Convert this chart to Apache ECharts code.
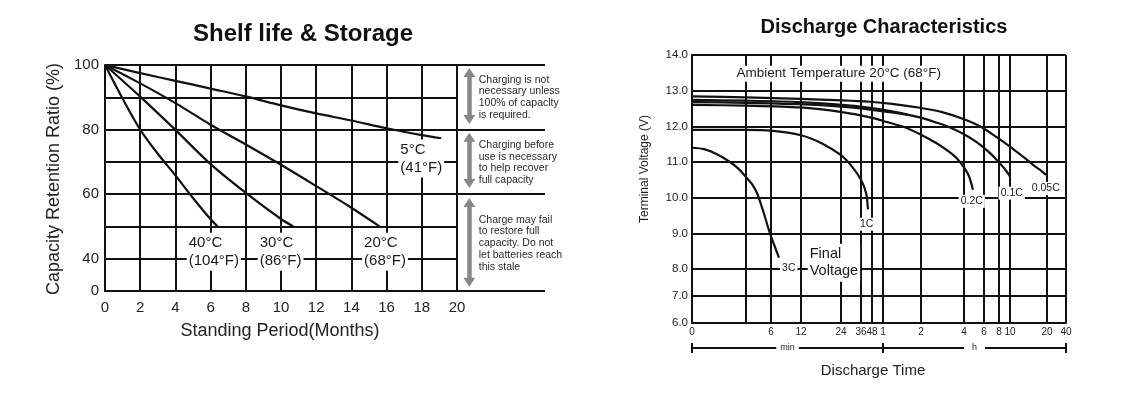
<!DOCTYPE html>
<html><head><meta charset="utf-8">
<script src="https://cdn.jsdelivr.net/npm/echarts@6/dist/echarts.min.js"></script>
<style>html,body{margin:0;padding:0;background:#fff}#c{width:1134px;height:395px}</style>
</head><body><div id="c"></div>
<script>
// ---------------- Shelf life & Storage (left) ----------------
const SHELF_X_TICKS = [0, 2, 4, 6, 8, 10, 12, 14, 16, 18, 20];          // months
const SHELF_Y_TICKS = [30, 40, 60, 80, 100];                              // axis values carrying labels
const SHELF_Y_TICK_LABELS = ['0', '40', '60', '80', '100'];
const SHELF_5C  = [[0,100],[2,97.5],[4,95.1],[6,92.7],[8,90.3],[10,87.5],[12,85.0],[14,82.8],[16,80.4],[18,78.3],[19.1,77.3]];
const SHELF_20C = [[0,100],[2,94.3],[4,88.2],[6,81.5],[8,75.4],[10,69.1],[12,62.5],[14,55.8],[15.6,50]];
const SHELF_30C = [[0,100],[2,90.2],[4,79.9],[6,69.3],[8,60.4],[10,52.3],[10.7,50]];
const SHELF_40C = [[0,100],[1,89.6],[2,80],[3,72.5],[4,65.8],[5,58.8],[6,52.2],[6.4,50]];
const SHELF_CURVE_LABELS = [['40°C\n(104°F)', 4.66, 42.1], ['30°C\n(86°F)', 8.69, 42.1], ['20°C\n(68°F)', 14.62, 42.1], ['5°C\n(41°F)', 16.68, 71.0]];
const SHELF_ZONES = [[97.7, 83.1], [77.6, 63.3], [57.4, 32.7]];            // double-arrow ranges (%)
const SHELF_NOTES = [
  ['Charging is not\nnecessary unless\n100% of capaclty\nis required.', 89.9],
  ['Charging before\nuse is necessary\nto help recover\nfull capacity', 69.7],
  ['Charge may fail\nto restore full\ncapacity. Do not\nlet batteries reach\nthis stale', 44.7]
];

// ---------------- Discharge Characteristics (right) ----------------
const TIME_TICKS = [0, 3, 6, 12, 24, 36, 48, 60, 120, 240, 360, 480, 600, 1200, 2400];   // minutes
const TIME_TICK_LABELS = ['0', '', '6', '12', '24', '36', '48', '1', '2', '4', '6', '8', '10', '20', '40'];
// curves: [minutes, volts]
const DIS_3C = [[0,11.4],[0.67,11.36],[1.39,11.22],[2.11,11.0],[2.56,10.82],[3,10.58],[3.72,10.38],[4.32,10.13],[5.16,9.55],[5.88,9.0],[7.6,8.32]];
const DIS_1C = [[0,11.9],[3,11.9],[6,11.88],[12,11.75],[18.3,11.52],[24,11.19],[30.6,10.87],[36,10.5],[41.5,10.13],[43.6,9.67]];
const DIS_02C = [[0,12.6],[3,12.58],[11.8,12.53],[24.6,12.4],[45.8,12.25],[66.3,12.12],[93.2,11.98],[118.4,11.78],[164.7,11.52],[200.9,11.27],[220.5,11.1],[240,10.85],[270,10.6],[294,10.22]];
const DIS_X = [[0,12.68],[3,12.66],[11.8,12.62],[24.6,12.55],[45.8,12.47],[74.2,12.39],[97.9,12.33]];
const DIS_01C = [[0,12.74],[3,12.72],[11.8,12.68],[24.6,12.6],[45.8,12.52],[74.2,12.42],[118.4,12.25],[164.7,12.1],[200.9,11.97],[240,11.78],[318,11.55],[408,11.25],[464,11.05],[534.5,10.83],[600,10.6]];
const DIS_005C = [[0,12.84],[3,12.81],[11.8,12.77],[24.6,12.73],[45.8,12.69],[74.2,12.63],[118.4,12.52],[178.6,12.4],[234.4,12.22],[336,12.0],[464,11.69],[632,11.39],[876,11.06],[1005,10.88],[1103,10.76],[1184,10.64]];
const DIS_CURVE_LABELS = [['3C', 9.6, 8.03], ['1C', 42.5, 9.25], ['0.2C', 288, 9.89], ['0.1C', 632, 10.12], ['0.05C', 1184, 10.25]];

// hand-drawn (non-uniform) time scale: axis position of each time tick
const TIME_AXIS_POS = [0, 54, 79, 109, 149, 169, 180, 191, 229, 272, 292, 307, 318, 355, 374];
function toPos(t) {
  for (let i = 1; i < TIME_TICKS.length; i++) {
    if (t <= TIME_TICKS[i]) {
      const a = TIME_TICKS[i - 1], b = TIME_TICKS[i];
      return TIME_AXIS_POS[i - 1] + (t - a) / (b - a) * (TIME_AXIS_POS[i] - TIME_AXIS_POS[i - 1]);
    }
  }
  return TIME_AXIS_POS[TIME_AXIS_POS.length - 1];
}

const FONT = 'Liberation Sans, Arial, Helvetica, sans-serif';
const BLACK = '#111';
const GRID_LINE = { show: true, lineStyle: { color: BLACK, width: 2 } };
const AXIS_LINE = { show: true, lineStyle: { color: BLACK, width: 2 } };

const chart = echarts.init(document.getElementById('c'), null, { renderer: 'canvas' });

function curve(data, xi, yi, mapX) {
  return {
    type: 'line', xAxisIndex: xi, yAxisIndex: yi, symbol: 'none', smooth: 0.3, silent: true, z: 3,
    lineStyle: { color: BLACK, width: 2.2 },
    data: data.map(p => [mapX ? toPos(p[0]) : p[0], p[1]])
  };
}
function labelSeries(items, xi, yi, labelOpt) {
  return {
    type: 'scatter', xAxisIndex: xi, yAxisIndex: yi, symbolSize: 0.5, silent: true, z: 5,
    itemStyle: { color: '#fff', opacity: 1 },
    emphasis: { disabled: true },
    label: Object.assign({ show: true, position: [0, 0], formatter: '{b}', fontFamily: FONT, color: '#1a1a1a',
      opacity: 1, textBorderWidth: 0, align: 'center', verticalAlign: 'middle' }, labelOpt),
    data: items.map(it => ({ name: it[0], value: [it[1], it[2]] }))
  };
}

const option = {
  backgroundColor: '#fff',
  animation: false,
  grid: [
    { left: 105, top: 65, width: 352, height: 226 },   // 0: shelf main
    { left: 457, top: 65, width: 88, height: 226 },    // 1: shelf notes strip
    { left: 692, top: 55, width: 374, height: 214 },   // 2: discharge 8-14 V
    { left: 692, top: 269, width: 374, height: 54 }    // 3: discharge 6-8 V
  ],
  xAxis: [
    { gridIndex: 0, type: 'value', min: 0, max: 20, interval: 2,
      axisLine: AXIS_LINE, axisTick: { show: false, customValues: SHELF_X_TICKS },
      axisLabel: { customValues: SHELF_X_TICKS, fontSize: 15, color: '#222', fontFamily: FONT, margin: 9 },
      splitLine: GRID_LINE },
    { gridIndex: 1, type: 'value', min: 20, max: 25, show: true,
      axisLine: { show: false }, axisTick: { show: false }, axisLabel: { show: false }, splitLine: { show: false } },
    { gridIndex: 2, type: 'value', min: 0, max: 374,
      axisLine: { show: false }, axisTick: { show: false, customValues: TIME_AXIS_POS },
      axisLabel: { show: false }, splitLine: GRID_LINE },
    { gridIndex: 3, type: 'value', min: 0, max: 374,
      axisLine: AXIS_LINE, axisTick: { show: false, customValues: TIME_AXIS_POS },
      axisLabel: { customValues: TIME_AXIS_POS, fontSize: 10, color: '#222', fontFamily: FONT, margin: 4,
        formatter: v => { const i = TIME_AXIS_POS.indexOf(v); return i >= 0 ? TIME_TICK_LABELS[i] : ''; } },
      splitLine: GRID_LINE }
  ],
  yAxis: [
    { gridIndex: 0, type: 'value', min: 30, max: 100, interval: 10,
      axisLine: AXIS_LINE, axisTick: { show: false },
      axisLabel: { customValues: SHELF_Y_TICKS, fontSize: 15, color: '#222', fontFamily: FONT, margin: 6,
        formatter: v => SHELF_Y_TICK_LABELS[SHELF_Y_TICKS.indexOf(v)] || '' },
      splitLine: GRID_LINE },
    { gridIndex: 1, type: 'value', min: 30, max: 100,
      axisLine: { show: false }, axisTick: { show: false, customValues: [30, 60, 80, 100] },
      axisLabel: { show: false }, splitLine: GRID_LINE },
    { gridIndex: 2, type: 'value', min: 8, max: 14, interval: 1,
      axisLine: AXIS_LINE, axisTick: { show: false },
      axisLabel: { fontSize: 11.5, color: '#222', fontFamily: FONT, margin: 4, showMinLabel: false,
        formatter: v => v.toFixed(1) },
      splitLine: GRID_LINE },
    { gridIndex: 3, type: 'value', min: 6, max: 8, interval: 1,
      axisLine: AXIS_LINE, axisTick: { show: false },
      axisLabel: { fontSize: 11.5, color: '#222', fontFamily: FONT, margin: 4, formatter: v => v.toFixed(1) },
      splitLine: GRID_LINE }
  ],
  series: [
    curve(SHELF_5C, 0, 0), curve(SHELF_20C, 0, 0), curve(SHELF_30C, 0, 0), curve(SHELF_40C, 0, 0),
    labelSeries(SHELF_CURVE_LABELS, 0, 0, { fontSize: 15, lineHeight: 18, align: 'left',
      backgroundColor: '#fff', padding: [1, 2, 1, 2] }),
    { type: 'line', xAxisIndex: 1, yAxisIndex: 1, data: [], silent: true,
      markLine: { silent: true, symbol: ['triangle', 'triangle'], symbolSize: [12, 9], label: { show: false },
        lineStyle: { color: '#888', width: 4.5, type: 'solid', opacity: 1 }, emphasis: { disabled: true },
        data: SHELF_ZONES.map(z => [{ coord: [20.7, z[0]] }, { coord: [20.7, z[1]] }]) } },
    labelSeries(SHELF_NOTES.map(n => [n[0], 21.25, n[1]]), 1, 1, { fontSize: 10.5, lineHeight: 11.7, color: '#2a2a2a',
      align: 'left' }),

    curve(DIS_3C, 2, 2, true), curve(DIS_1C, 2, 2, true), curve(DIS_02C, 2, 2, true),
    curve(DIS_X, 2, 2, true), curve(DIS_01C, 2, 2, true), curve(DIS_005C, 2, 2, true),
    labelSeries(DIS_CURVE_LABELS.map(l => [l[0], toPos(l[1]), l[2]]), 2, 2, { fontSize: 10.5, backgroundColor: '#fff',
      padding: [1, 2, 1, 2] }),
    labelSeries([['Final\nVoltage', toPos(14.1), 8.17]], 2, 2, { fontSize: 14.5, lineHeight: 17, align: 'left',
      backgroundColor: '#fff', padding: [2, 2, 2, 2] }),
    labelSeries([['Ambient Temperature 20°C (68°F)', toPos(23.4), 13.47]], 2, 2, { fontSize: 13.5,
      backgroundColor: '#fff', padding: [1, 3, 1, 3] })
  ]
};
chart.setOption(option);

const px = t => chart.convertToPixel({ xAxisIndex: 3 }, toPos(t));
const xs = px(0), xm = px(60), xe = px(2400), yb = 348;
function txt(id, text, x, y, size, extra) {
  return { type: 'text', id, x, y, z: 10, ...(extra || {}),
    style: Object.assign({ text, fontSize: size, fontFamily: FONT, fill: '#111', align: 'center', verticalAlign: 'middle' },
      (extra && extra.style) || {}) };
}
const LINE = { stroke: BLACK, lineWidth: 2 };
chart.setOption({
  graphic: [
    txt('t1', 'Shelf life & Storage', 303, 34, 24, { style: { fontWeight: 'bold' } }),
    txt('t2', 'Discharge Characteristics', 884, 27, 20, { style: { fontWeight: 'bold' } }),
    txt('ly', 'Capacity Retention Ratio (%)', 54, 179, 18, { rotation: Math.PI / 2, style: { fill: '#222' } }),
    txt('lx', 'Standing Period(Months)', 280, 331, 18, { style: { fill: '#222' } }),
    txt('ry', 'Terminal Voltage (V)', 645, 169, 12, { rotation: Math.PI / 2, style: { fill: '#222' } }),
    txt('rx', 'Discharge Time', 873, 371, 15, { style: { fill: '#222' } }),
    { type: 'line', id: 'b0', z: 9, shape: { x1: xs, y1: yb, x2: xe, y2: yb }, style: LINE },
    { type: 'line', id: 'b1', z: 9, shape: { x1: xs, y1: yb - 5, x2: xs, y2: yb + 5 }, style: LINE },
    { type: 'line', id: 'b2', z: 9, shape: { x1: xm, y1: yb - 5, x2: xm, y2: yb + 5 }, style: LINE },
    { type: 'line', id: 'b3', z: 9, shape: { x1: xe, y1: yb - 5, x2: xe, y2: yb + 5 }, style: LINE },
    txt('bm', 'min', (xs + xm) / 2, yb, 9, { style: { fill: '#222', backgroundColor: '#fff', padding: [2, 4] } }),
    txt('bh', 'h', (xm + xe) / 2, yb, 9, { style: { fill: '#222', backgroundColor: '#fff', padding: [2, 8] } })
  ]
});
</script></body></html>
